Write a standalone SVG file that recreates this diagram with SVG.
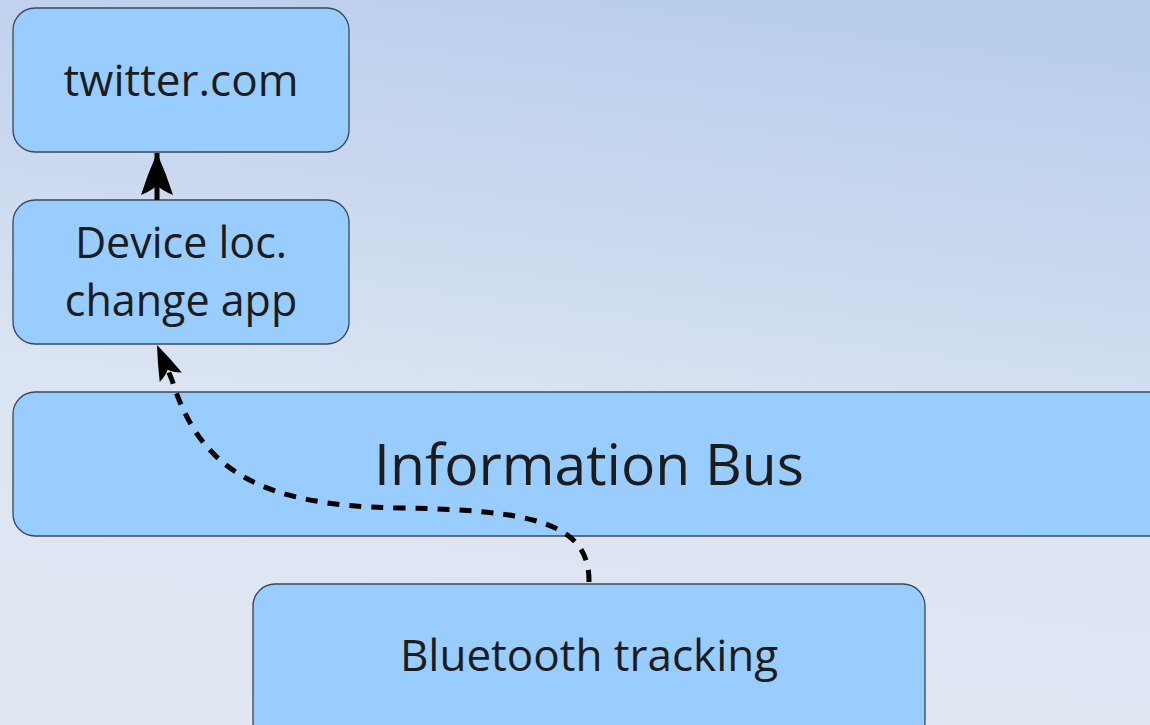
<svg xmlns="http://www.w3.org/2000/svg" width="1150" height="725" viewBox="0 0 1150 725">
<defs>
<linearGradient id="bg" x1="0.6" y1="0" x2="0.4" y2="1">
<stop offset="0" stop-color="#b9cdec"/>
<stop offset="0.6" stop-color="#dbe4f2"/>
<stop offset="1" stop-color="#e1e7f2"/>
</linearGradient>
<marker id="ah1" markerUnits="userSpaceOnUse" markerWidth="44" markerHeight="36" refX="42" refY="17" orient="auto" viewBox="0 0 44 34">
<path d="M42,17 Q22,8 0,1 Q5,13 10,17 Q5,21 0,33 Q22,26 42,17 Z" fill="#000"/>
</marker>
<marker id="ah2" markerUnits="userSpaceOnUse" markerWidth="38" markerHeight="28" refX="35" refY="13" orient="auto" viewBox="0 0 38 26">
<path d="M35,13 Q17,6 0,1 Q4,10 8,13 Q4,16 0,25 Q17,20 35,13 Z" fill="#000"/>
</marker>
<style>
.box{fill:#99ccff;stroke:#3c4654;stroke-width:1.3}
.t{font-family:"Open Sans","Liberation Sans",sans-serif;fill:#1c1c1c;text-anchor:middle}
.c{fill:none;stroke:#000;stroke-width:5}
</style>
</defs>
<rect width="1150" height="725" fill="url(#bg)"/>
<g id="twitter">
<rect class="box" x="13" y="8" width="336" height="144" rx="22"/>
<text class="t" x="181" y="96" font-size="44">twitter.com</text>
</g>
<g id="device">
<rect class="box" x="13" y="200" width="336" height="144" rx="22"/>
<text class="t" x="181" y="258" font-size="43">Device loc.</text>
<text class="t" x="181" y="316" font-size="43">change app</text>
</g>
<g id="bus">
<rect class="box" x="13" y="392" width="1170" height="144" rx="22"/>
<text class="t" x="589" y="485" font-size="57">Information Bus</text>
</g>
<g id="bluetooth">
<rect class="box" x="253" y="584" width="672" height="160" rx="22"/>
<text class="t" x="589" y="671" font-size="44">Bluetooth tracking</text>
</g>
<g id="connectors">
<path class="c" d="M157,200 L157,153" marker-end="url(#ah1)"/>
<path class="c" d="M589,582 C590,522 530,510 400,508 C260,506 200,470 172,380 L157,345" stroke-dasharray="12,10" marker-end="url(#ah2)"/>
</g>
</svg>
